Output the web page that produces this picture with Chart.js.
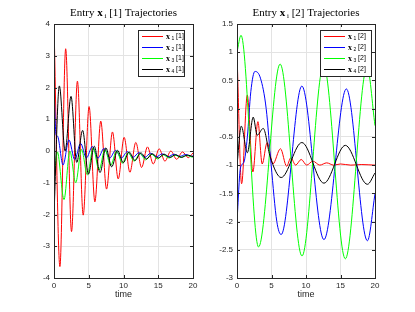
<!DOCTYPE html>
<html lang="en">
<head>
<meta charset="UTF-8">
<title>Entry x_i Trajectories</title>
<script src="https://cdn.jsdelivr.net/npm/chart.js"></script>
<style>
  body { margin: 0; background: #ffffff; }
  .panel { position: absolute; top: 0; height: 312px; }
  #left { left: 0; width: 207px; }
  #right { left: 207px; width: 208px; }
</style>
</head>
<body>
<div class="panel" id="left"><canvas id="chart1"></canvas></div>
<div class="panel" id="right"><canvas id="chart2"></canvas></div>
<script>
// entry [1] -- time / value at turning points
const e1x1T = [0, 0.85, 1.68, 2.52, 3.37, 4.2, 5.05, 5.88, 6.73, 7.56, 8.41, 9.24, 10.09, 10.92, 11.77, 12.6, 13.45, 14.28, 15.13, 15.96, 16.81, 17.64, 18.49, 19.32, 20];
const e1x1V = [4.0, -3.64, 3.22, -2.54, 2.2, -2.02, 1.4, -1.6, 0.94, -1.2, 0.6, -0.88, 0.43, -0.67, 0.27, -0.52, 0.13, -0.41, 0.07, -0.32, 0.0, -0.26, -0.03, -0.21, -0.06];
const e1x2T = [0, 0.3, 0.5, 1.3, 2.15, 2.98, 3.83, 4.66, 5.51, 6.34, 7.19, 8.02, 8.87, 9.7, 10.55, 11.38, 12.23, 13.06, 13.91, 14.74, 15.59, 16.42, 17.27, 18.1, 18.95, 19.78, 20];
const e1x2V = [2.0, 0.5, 0.47, -0.44, 0.35, -0.27, 0.24, -0.22, 0.14, -0.22, 0.08, -0.22, 0.02, -0.22, -0.02, -0.2, -0.05, -0.2, -0.07, -0.18, -0.09, -0.18, -0.1, -0.17, -0.11, -0.17, -0.15];
const e1x3T = [0, 0.48, 1.44, 2.28, 3.12, 3.96, 4.8, 5.64, 6.48, 7.32, 8.16, 9.0, 9.84, 10.68, 11.52, 12.36, 13.2, 14.04, 14.88, 15.72, 16.56, 17.4, 18.24, 19.08, 19.92, 20];
const e1x3V = [-1.0, -0.03, -1.53, 0.0, -1.0, 0.05, -0.75, 0.1, -0.6, 0.05, -0.45, 0.0, -0.38, -0.05, -0.32, -0.08, -0.28, -0.1, -0.25, -0.12, -0.22, -0.13, -0.2, -0.14, -0.19, -0.18];
const e1x4T = [0, 0.77, 1.6, 2.45, 3.27, 4.12, 4.95, 5.8, 6.62, 7.47, 8.3, 9.15, 9.97, 10.8, 11.65, 12.5, 13.32, 14.15, 15.0, 15.85, 16.67, 17.5, 18.35, 19.2, 20];
const e1x4V = [-2.0, 2.05, 0.0, 1.72, -0.36, 0.65, -0.73, 0.15, -0.68, 0.1, -0.5, 0.02, -0.37, -0.03, -0.3, -0.06, -0.25, -0.09, -0.22, -0.1, -0.2, -0.12, -0.2, -0.13, -0.18];

// entry [2]
const e2x1T = [0, 0.67, 1.49, 2.3, 3.03, 3.65, 4.37, 5.2, 6.3, 7.2, 7.8, 8.5, 9.3, 10.1, 11.0, 12.0, 13.0, 14.0, 15.0, 16.5, 18.0, 20];
const e2x1V = [0.98, -1.33, 0.24, -1.12, -0.23, -0.98, -0.6, -0.98, -0.71, -1.02, -0.87, -1.0, -0.9, -1.0, -0.93, -1.0, -0.96, -1.0, -0.98, -1.0, -0.99, -1.0];
const e2x2T = [0, 0.5, 1.0, 1.5, 2.0, 2.6, 3.4, 4.23, 4.95, 5.77, 6.4, 9.4, 12.6, 15.85, 18.9, 20];
const e2x2V = [-2.0, -1.05, -0.95, -0.5, 0.3, 0.66, 0.54, 0.0, -1.0, -2.0, -2.23, 0.4, -2.32, 0.35, -2.34, -1.51];
const e2x3T = [0, 0.58, 3.12, 6.25, 9.42, 12.55, 15.7, 18.85, 20];
const e2x3V = [1.0, 1.3, -2.45, 0.79, -2.61, 0.77, -2.66, 0.74, -0.3];
const e2x4T = [0, 0.62, 1.5, 2.35, 2.93, 3.8, 4.8, 6.4, 9.4, 12.6, 15.7, 18.9, 20];
const e2x4V = [-1.0, -0.31, -0.78, -0.15, -0.47, -0.35, -0.85, -1.22, -0.6, -1.32, -0.65, -1.34, -1.14];

const xTicks = [0, 5, 10, 15, 20];
const colors = ['#ff0000', '#0000ff', '#00ff00', '#000000'];

Chart.defaults.font.family = '"Liberation Sans", Arial, sans-serif';
const SERIF = '"Liberation Serif", "Times New Roman", serif';
const SANS = '"Liberation Sans", Arial, sans-serif';

function pts(ts, vs) {
    return ts.map((t, i) => ({ x: t, y: vs[i] }));
}

// draws pieces of text one after another, returns width
function richText(ctx, parts, x, y, measureOnly) {
    let w = 0;
    parts.forEach(p => {
        ctx.font = p.font;
        if (!measureOnly) ctx.fillText(p.text, x + w, y + (p.dy || 0));
        w += ctx.measureText(p.text).width;
    });
    return w;
}

const decorPlugin = {
    id: 'decor',
    afterDraw(chart, args, opts) {
        const ctx = chart.ctx;
        const a = chart.chartArea;
        const xs = chart.scales.x, ys = chart.scales.y;
        ctx.save();
        // axes box with inward ticks
        ctx.strokeStyle = '#262626';
        ctx.lineWidth = 1;
        ctx.strokeRect(Math.round(a.left) + 0.5, Math.round(a.top) + 0.5, Math.round(a.right - a.left), Math.round(a.bottom - a.top));
        ctx.beginPath();
        xs.ticks.forEach(t => {
            const px = Math.round(xs.getPixelForValue(t.value)) + 0.5;
            ctx.moveTo(px, a.bottom); ctx.lineTo(px, a.bottom - 3);
            ctx.moveTo(px, a.top); ctx.lineTo(px, a.top + 3);
        });
        ys.ticks.forEach(t => {
            const py = Math.round(ys.getPixelForValue(t.value)) + 0.5;
            ctx.moveTo(a.left, py); ctx.lineTo(a.left + 3, py);
            ctx.moveTo(a.right, py); ctx.lineTo(a.right - 3, py);
        });
        ctx.stroke();

        // title
        ctx.fillStyle = '#000000';
        ctx.textBaseline = 'middle';
        const tparts = [
            { text: 'Entry ', font: '11px ' + SERIF },
            { text: 'x', font: 'bold 11px ' + SERIF },
            { text: ' i', font: '7px ' + SERIF, dy: 3 },
            { text: ' [' + opts.entry + '] Trajectories', font: '11px ' + SERIF }
        ];
        const tw = richText(ctx, tparts, 0, 0, true);
        richText(ctx, tparts, (a.left + a.right) / 2 - tw / 2, 13, false);

        // legend
        const b = opts.box;
        ctx.fillStyle = '#ffffff';
        ctx.fillRect(b.x, b.y, b.w, b.h);
        ctx.strokeStyle = '#262626';
        ctx.strokeRect(b.x + 0.5, b.y + 0.5, b.w, b.h);
        for (let i = 0; i < 4; i++) {
            const ry = b.y + 6.5 + i * 11;
            ctx.strokeStyle = colors[i];
            ctx.beginPath();
            ctx.moveTo(b.x + 4, ry); ctx.lineTo(b.x + 25, ry);
            ctx.stroke();
            ctx.fillStyle = '#000000';
            richText(ctx, [
                { text: 'x', font: 'bold 8px ' + SERIF },
                { text: ' ' + (i + 1), font: '5px ' + SANS, dy: 2 },
                { text: ' [' + opts.entry + ']', font: '7px ' + SANS }
            ], b.x + 28, ry, false);
        }
        ctx.restore();
    }
};

function makeChart(id, entry, series, yMin, yMax, yStep, yWidth, rightPad, box) {
    return new Chart(document.getElementById(id), {
        type: 'line',
        data: {
            datasets: series.map((s, i) => ({
                label: 'x' + (i + 1) + ' [' + entry + ']',
                data: pts(s[0], s[1]),
                borderColor: colors[i],
                borderWidth: 1,
                pointRadius: 0,
                fill: false,
                cubicInterpolationMode: 'monotone',
                order: 3 - i
            }))
        },
        options: {
            responsive: true,
            maintainAspectRatio: false,
            animation: false,
            layout: { padding: { top: 24, right: rightPad, left: 0, bottom: 0 } },
            plugins: {
                legend: { display: false },
                tooltip: { enabled: false },
                decor: { entry: entry, box: box }
            },
            scales: {
                x: {
                    type: 'linear', min: 0, max: 20,
                    afterBuildTicks: s => { s.ticks = xTicks.map(v => ({ value: v })); },
                    ticks: { color: '#262626', font: { size: 8 }, padding: 3, maxRotation: 0 },
                    grid: { color: '#e3e3e3', drawTicks: false },
                    border: { display: false },
                    title: { display: true, text: 'time', color: '#262626', font: { size: 9 }, padding: { top: 0, bottom: 12 } },
                    afterFit: s => { s.height = 34; }
                },
                y: {
                    min: yMin, max: yMax,
                    ticks: { stepSize: yStep, color: '#262626', font: { size: 8 }, padding: 4, callback: v => String(v) },
                    grid: { color: '#e3e3e3', drawTicks: false },
                    border: { display: false },
                    afterFit: s => { s.width = yWidth; }
                }
            }
        },
        plugins: [decorPlugin]
    });
}

makeChart('chart1', 1,
    [[e1x1T, e1x1V], [e1x2T, e1x2V], [e1x3T, e1x3V], [e1x4T, e1x4V]],
    -4, 4, 1, 54, 14, { x: 138, y: 30, w: 46, h: 46 });

makeChart('chart2', 2,
    [[e2x1T, e2x1V], [e2x2T, e2x2V], [e2x3T, e2x3V], [e2x4T, e2x4V]],
    -3, 1.5, 0.5, 30, 40, { x: 113, y: 30, w: 51, h: 46 });
</script>
</body>
</html>
